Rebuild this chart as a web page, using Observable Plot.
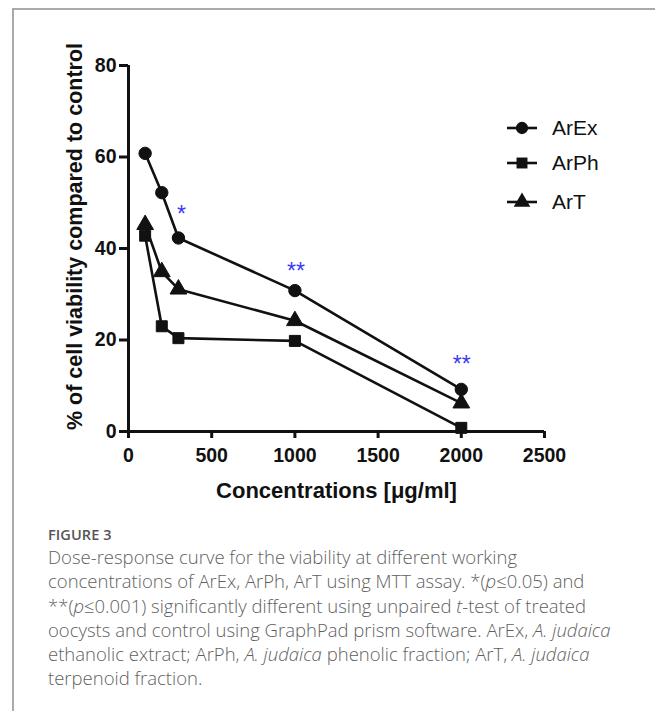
<!DOCTYPE html>
<html>
<head>
<meta charset="utf-8">
<script src="https://cdn.jsdelivr.net/npm/d3@7"></script>
<script src="https://cdn.jsdelivr.net/npm/@observablehq/plot@0.6"></script>
<style>
  html, body { margin: 0; padding: 0; background: #fff; }
  #page { position: relative; width: 655px; height: 711px; overflow: hidden; }
  #frame { position: absolute; left: 12px; top: 8px; right: -2px; bottom: -2px;
           border-top: 2px solid #aaa; border-left: 2px solid #aaa; }
  #chart { position: absolute; left: 0; top: 0; }
  #legend { position: absolute; left: 506px; top: 0; font-family: "Liberation Sans", Arial, sans-serif; font-size: 21px; color: #111; }
  .lrow { position: absolute; left: 0; height: 22px; white-space: nowrap; display: flex; align-items: center; }
  .lrow svg { margin-right: 14px; }
  #figlabel { position: absolute; left: 48px; top: 525px; font-family: "Open Sans", sans-serif; font-size: 14.5px; font-weight: 600; color: #555; letter-spacing: 0.1px; }
  #caption { position: absolute; left: 48px; top: 545px; font-family: "Open Sans", sans-serif; font-size: 18.5px; font-weight: 300; line-height: 24.3px; color: #5f5f5f; white-space: nowrap; }
</style>
</head>
<body>
<div id="page">
  <div id="frame"></div>
  <div id="chart"></div>
  <div id="legend"></div>
  <div id="figlabel">FIGURE 3</div>
  <div id="caption">
    Dose-response curve for the viability at different working<br>
    concentrations of ArEx, ArPh, ArT using MTT assay. *(<i>p</i>≤0.05) and<br>
    **(<i>p</i>≤0.001) significantly different using unpaired <i>t</i>-test of treated<br>
    oocysts and control using GraphPad prism software. ArEx, <i>A. judaica</i><br>
    ethanolic extract; ArPh, <i>A. judaica</i> phenolic fraction; ArT, <i>A. judaica</i><br>
    terpenoid fraction.
  </div>
</div>
<script>
// ---- data ----
const concentrations = [100, 200, 300, 1000, 2000];
const seriesNames = ["ArEx", "ArPh", "ArT"];
const arEx = [60.8, 52.2, 42.3, 30.8, 9.2];
const arPh = [42.8, 23.0, 20.4, 19.8, 0.8];
const arT  = [45.2, 34.9, 31.1, 24.2, 6.2];
const seriesSymbols = ["circle", "square", "triangle"];
const sigX = [318, 1007, 2003];
const sigY = [48.3, 35.9, 15.5];
const sigLabels = ["*", "**", "**"];
const xTicks = [0, 500, 1000, 1500, 2000, 2500];
const yTicks = [0, 20, 40, 60, 80];
const xTitle = "Concentrations [μg/ml]";
const yTitle = "% of cell viability compared to control";

const seriesValues = [arEx, arPh, arT];
const rows = [];
seriesNames.forEach((name, i) => {
  concentrations.forEach((c, j) => rows.push({series: name, x: c, y: seriesValues[i][j]}));
});
const sig = sigX.map((x, i) => ({x, y: sigY[i], label: sigLabels[i]}));

const chart = Plot.plot({
  width: 655,
  height: 520,
  marginLeft: 128,
  marginRight: 111,
  marginTop: 65,
  marginBottom: 89,
  style: {fontFamily: "'Liberation Sans', Arial, sans-serif", fontSize: "19.5px", fontWeight: "bold", color: "#111", background: "transparent"},
  x: {domain: [0, 2500]},
  y: {domain: [0, 80]},
  symbol: {domain: seriesNames, range: seriesSymbols},
  marks: [
    Plot.line(rows, {x: "x", y: "y", z: "series", stroke: "#111", strokeWidth: 2.6}),
    Plot.dot(rows, {x: "x", y: "y", symbol: "series", fill: "#111", stroke: "#111", strokeWidth: 1, r: 6.2}),
    Plot.ruleX([0], {stroke: "#111", strokeWidth: 3}),
    Plot.ruleY([0], {stroke: "#111", strokeWidth: 3}),
    Plot.axisX({ticks: xTicks, tickFormat: d => String(d), tickSize: 7, tickPadding: 10, strokeWidth: 3, label: null}),
    Plot.axisY({ticks: yTicks, tickFormat: d => String(d), tickSize: 9, tickPadding: 3, strokeWidth: 3, label: null}),
    Plot.text([xTitle], {frameAnchor: "bottom", dy: 59, lineAnchor: "middle", fontSize: 22, fill: "#111"}),
    Plot.text([yTitle], {frameAnchor: "left", dx: -53, dy: -12, rotate: -90, textAnchor: "middle", lineAnchor: "middle", fontSize: 21.5, fill: "#111"}),
    Plot.text(sig, {x: "x", y: "y", text: "label", fill: "#3b3bf5", fontSize: 23, fontWeight: "normal", dy: 4})
  ]
});
document.getElementById("chart").appendChild(chart);

// ---- legend (HTML overlay) ----
const legend = document.getElementById("legend");
const legendTops = [117, 152, 191];
seriesNames.forEach((name, i) => {
  const row = document.createElement("div");
  row.className = "lrow";
  row.style.top = legendTops[i] + "px";
  const sym = d3.symbol(i === 0 ? d3.symbolCircle : i === 1 ? d3.symbolSquare : d3.symbolTriangle, Math.PI * 38)();
  row.innerHTML = `<svg width="32" height="22"><line x1="1" x2="31" y1="11" y2="11" stroke="#111" stroke-width="2.6"/><path d="${sym}" transform="translate(16,11)" fill="#111"/></svg><span>${name}</span>`;
  legend.appendChild(row);
});
</script>
</body>
</html>
